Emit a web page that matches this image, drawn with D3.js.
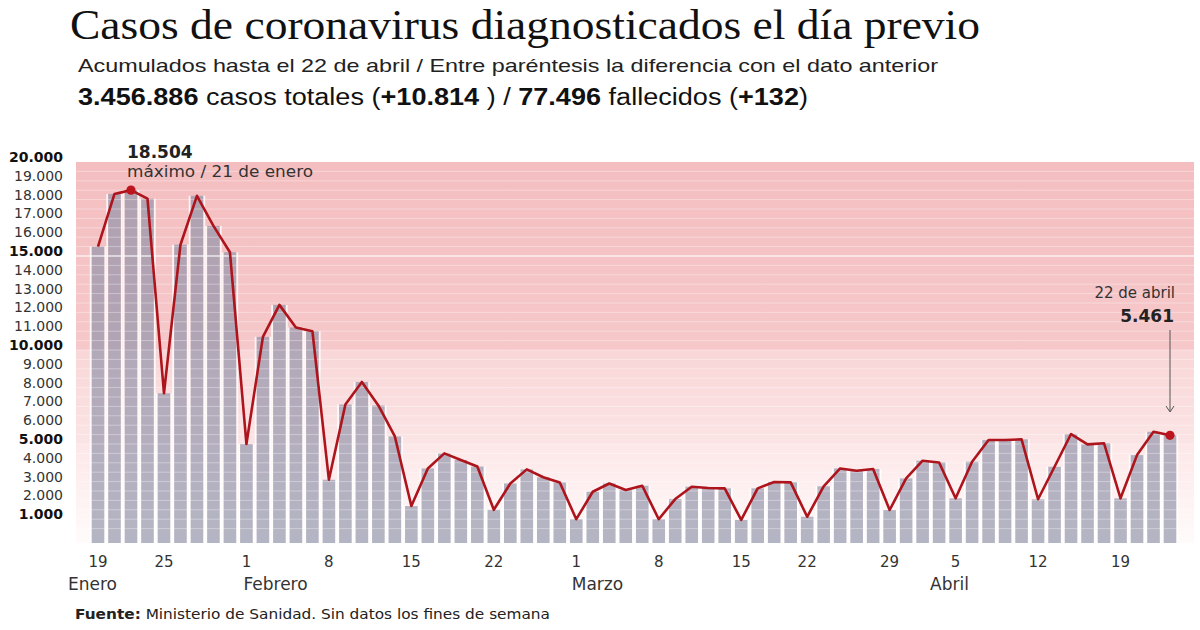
<!DOCTYPE html>
<html><head><meta charset="utf-8">
<script src="https://cdn.jsdelivr.net/npm/d3@7"></script>
<style>body{margin:0;background:#fff}</style>
</head><body>
<svg id="c" width="1200" height="630" xmlns="http://www.w3.org/2000/svg"></svg>
<script>
// ---- data ----
const dates = [
  "2021-01-19","2021-01-20","2021-01-21","2021-01-22","2021-01-25","2021-01-26","2021-01-27","2021-01-28","2021-01-29",
  "2021-02-01","2021-02-02","2021-02-03","2021-02-04","2021-02-05","2021-02-08","2021-02-09","2021-02-10","2021-02-11","2021-02-12",
  "2021-02-15","2021-02-16","2021-02-17","2021-02-18","2021-02-19","2021-02-22","2021-02-23","2021-02-24","2021-02-25","2021-02-26",
  "2021-03-01","2021-03-02","2021-03-03","2021-03-04","2021-03-05","2021-03-08","2021-03-09","2021-03-10","2021-03-11","2021-03-12",
  "2021-03-15","2021-03-16","2021-03-17","2021-03-18","2021-03-22","2021-03-23","2021-03-24","2021-03-25","2021-03-26",
  "2021-03-29","2021-03-30","2021-03-31","2021-04-01","2021-04-05","2021-04-06","2021-04-07","2021-04-08","2021-04-09",
  "2021-04-12","2021-04-13","2021-04-14","2021-04-15","2021-04-16","2021-04-19","2021-04-20","2021-04-21","2021-04-22"
];
const cases = [
  15500,18300,18504,18050,7700,15600,18200,16600,15200,
  5000,10700,12400,11200,11000,3100,7100,8300,7050,5400,
  1700,3700,4500,4150,3800,1500,2900,3650,3230,2950,
  1000,2460,2900,2550,2780,1000,2070,2730,2660,2640,
  960,2640,2980,2960,1130,2750,3700,3580,3670,
  1490,3170,4110,4020,2110,4060,5210,5210,5250,
  2060,3790,5530,4980,5040,2110,4410,5650,5461
];
const tickDates = ["2021-01-19","2021-01-25","2021-02-01","2021-02-08","2021-02-15","2021-02-22",
  "2021-03-01","2021-03-08","2021-03-15","2021-03-22","2021-03-29","2021-04-05","2021-04-12","2021-04-19"];
const monthNames = ["Enero","Febrero","Marzo","Abril"];
const monthDates = ["2021-01-19","2021-02-01","2021-03-01","2021-04-05"];
const yTicks = d3.range(1000, 20001, 1000);
const boldTicks = [1000, 5000, 10000, 15000, 20000];
const bandLimits = [0, 5000, 10000, 20000];
const maxDate = "2021-01-21", lastDate = "2021-04-22";

// ---- layout ----
const svg = d3.select("#c");
const sans = "'DejaVu Sans', Verdana, sans-serif";
const loc = d3.formatLocale({decimal: ",", thousands: ".", grouping: [3], currency: ["", "€"]});
const fmt = loc.format(",d");

const x = d3.scalePoint().domain(dates).range([98, 1170]);
const y = d3.scaleLinear().domain([0, 20000]).range([538, 162]);
const step = x.step();
const bw = 12.6;
const left = 76, right = 1194, base = 543;

// gradients
const defs = svg.append("defs");
const bandColors = [["#fde7e8", "#fffbfb"], ["#f9d6d7", "#fbe4e5"], ["#f4bec0", "#f6c8ca"]];
bandColors.forEach((c, i) => {
  const g = defs.append("linearGradient").attr("id", "band" + i).attr("x1", 0).attr("x2", 0).attr("y1", 0).attr("y2", 1);
  g.append("stop").attr("offset", 0).attr("stop-color", c[0]);
  g.append("stop").attr("offset", 1).attr("stop-color", c[1]);
});

// bands
for (let i = 0; i < 3; i++) {
  const top = y(bandLimits[i + 1]);
  const bot = i === 0 ? base : y(bandLimits[i]);
  svg.append("rect").attr("x", left).attr("y", top).attr("width", right - left).attr("height", bot - top)
    .attr("fill", `url(#band${i})`);
}

// white gaps beside bars
svg.append("g").selectAll("path").data(dates).join("path")
  .attr("d", (d, i) => {
    const t = y(cases[i]), h = base - t, cx = x(d);
    return `M${cx - step / 2},${t}h${step / 2 - bw / 2}v${h}h${-(step / 2 - bw / 2)}Z` +
           `M${cx + bw / 2},${t}h${step / 2 - bw / 2}v${h}h${-(step / 2 - bw / 2)}Z`;
  })
  .attr("fill", "#ffffff").attr("opacity", 0.8);

// bars (translucent)
svg.append("g").selectAll("rect").data(dates).join("rect")
  .attr("x", d => x(d) - bw / 2).attr("width", bw)
  .attr("y", (d, i) => y(cases[i])).attr("height", (d, i) => base - y(cases[i]))
  .attr("fill", "#9094aa").attr("opacity", 0.68);

// stripes
svg.append("g").selectAll("line").data(d3.range(500, 20000, 500)).join("line")
  .attr("x1", left).attr("x2", right).attr("y1", d => y(d)).attr("y2", d => y(d))
  .attr("stroke", "#ffffff").attr("stroke-width", d => d === 15000 ? 1.6 : 1)
  .attr("opacity", d => d === 15000 ? 0.75 : 0.35);

// line
const line = d3.line().x((d, i) => x(dates[i])).y(d => y(d));
svg.append("path").datum(cases).attr("d", line).attr("fill", "none")
  .attr("stroke", "#ad141c").attr("stroke-width", 2.6).attr("stroke-linejoin", "round");

// dots
[maxDate, lastDate].forEach(d => {
  const i = dates.indexOf(d);
  svg.append("circle").attr("cx", x(d)).attr("cy", y(cases[i])).attr("r", 4.6).attr("fill", "#bd151e");
});

// y axis labels
svg.append("g").selectAll("text").data(yTicks).join("text")
  .attr("x", 63).attr("y", d => y(d))
  .attr("text-anchor", "end").attr("font-family", sans)
  .attr("font-size", 14).attr("font-weight", d => boldTicks.includes(d) ? "bold" : "normal")
  .attr("fill", d => boldTicks.includes(d) ? "#111" : "#333")
  .text(d => fmt(d));

// x axis day labels
svg.append("g").selectAll("text").data(tickDates).join("text")
  .attr("x", d => x(d)).attr("y", 567).attr("text-anchor", "middle")
  .attr("font-family", sans).attr("font-size", 15).attr("fill", "#333")
  .text(d => +d.slice(8));

// month labels
const monthOffset = [-30, -3, -4.5, -25.5];
svg.append("g").selectAll("text").data(monthNames).join("text")
  .attr("x", (d, i) => x(monthDates[i]) + monthOffset[i]).attr("y", 590)
  .attr("font-family", sans).attr("font-size", 17).attr("fill", "#333")
  .text(d => d);

// annotations
const mi = dates.indexOf(maxDate), li = dates.indexOf(lastDate);
svg.append("text").attr("x", 127).attr("y", 158).attr("font-family", sans).attr("font-size", 17)
  .attr("font-weight", "bold").attr("fill", "#222").text(fmt(cases[mi]));
svg.append("text").attr("x", 127).attr("y", 177).attr("font-family", sans).attr("font-size", 16)
  .attr("fill", "#333").attr("textLength", 186).attr("lengthAdjust", "spacingAndGlyphs")
  .text("máximo / 21 de enero");

svg.append("text").attr("x", 1175).attr("y", 298).attr("text-anchor", "end").attr("font-family", sans)
  .attr("font-size", 15).attr("fill", "#333").text("22 de abril");
svg.append("text").attr("x", 1174).attr("y", 322).attr("text-anchor", "end").attr("font-family", sans)
  .attr("font-size", 17).attr("font-weight", "bold").attr("fill", "#222").text(fmt(cases[li]));
const ax = x(lastDate);
svg.append("line").attr("x1", ax).attr("x2", ax).attr("y1", 330).attr("y2", 411)
  .attr("stroke", "#555").attr("stroke-width", 1);
svg.append("path").attr("d", `M${ax - 4},${406} L${ax},${412} L${ax + 4},${406}`)
  .attr("fill", "none").attr("stroke", "#555").attr("stroke-width", 1);

// titles
svg.append("text").attr("x", 70).attr("y", 39).attr("font-family", "'Liberation Serif', 'Times New Roman', serif")
  .attr("font-size", 42).attr("fill", "#111").attr("textLength", 910).attr("lengthAdjust", "spacingAndGlyphs")
  .text("Casos de coronavirus diagnosticados el día previo");
svg.append("text").attr("x", 78).attr("y", 72).attr("font-family", "'Liberation Sans', Arial, sans-serif")
  .attr("font-size", 18.5).attr("fill", "#222").attr("textLength", 860).attr("lengthAdjust", "spacingAndGlyphs")
  .text("Acumulados hasta el 22 de abril / Entre paréntesis la diferencia con el dato anterior");
const t3 = svg.append("text").attr("x", 78).attr("y", 105).attr("font-family", "'Liberation Sans', Arial, sans-serif")
  .attr("font-size", 23).attr("fill", "#111").attr("textLength", 730).attr("lengthAdjust", "spacingAndGlyphs");
[["3.456.886", true], [" casos totales (", false], ["+10.814", true], [" ) / ", false], ["77.496", true],
 [" fallecidos (", false], ["+132", true], [")", false]].forEach(([s, b]) => {
  t3.append("tspan").attr("font-weight", b ? "bold" : "normal").text(s);
});

// footer
const ft = svg.append("text").attr("x", 75).attr("y", 619).attr("font-family", sans)
  .attr("font-size", 14.5).attr("fill", "#222").attr("textLength", 475).attr("lengthAdjust", "spacingAndGlyphs");
ft.append("tspan").attr("font-weight", "bold").text("Fuente:");
ft.append("tspan").text(" Ministerio de Sanidad. Sin datos los fines de semana");
</script>
</body></html>
